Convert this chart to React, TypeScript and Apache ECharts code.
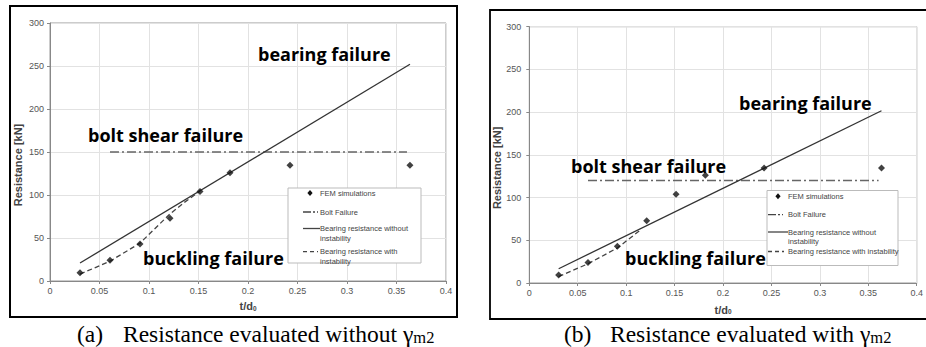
import React, { useEffect, useRef } from "react";
import * as echarts from "echarts";

// ---- data ----
const xTicks = [0, 0.05, 0.1, 0.15, 0.2, 0.25, 0.3, 0.35, 0.4];
const yTicks = [0, 50, 100, 150, 200, 250, 300];

const femX = [0.0303, 0.0606, 0.0909, 0.1212, 0.1515, 0.1818, 0.2424, 0.3636];
const femY = [9.5, 24, 43, 73, 104, 126, 134.5, 134.5];

const boltX = [0.0606, 0.3606];
const boltYA = [150, 150];
const boltYB = [120, 120];

const bearingX = [0.0303, 0.3636];
const bearingYA = [20.9, 252];
const bearingYB = [16.7, 201.6];

const buckXA = [0.0303, 0.0606, 0.0909, 0.1212, 0.1364, 0.1515];
const buckYA = [8, 23, 44, 78, 92, 104.5];
const buckXB = [0.0303, 0.0606, 0.0909, 0.1136];
const buckYB = [7.5, 22.5, 41, 61];

const legendNames = [
  "FEM simulations",
  "Bolt Failure",
  "Bearing resistance without\ninstability",
  "Bearing resistance with\ninstability",
];

const pairs = (xs: number[], ys: number[]) => xs.map((x, i) => [x, ys[i]]);

const SANS = "Liberation Sans, Arial, sans-serif";
const ANN = "Open Sans, sans-serif";
const SERIF = "Liberation Serif, Times New Roman, serif";

function makeX(gridIndex: number, margin: number, nameGap: number) {
  return {
    type: "value",
    gridIndex,
    min: xTicks[0],
    max: xTicks[xTicks.length - 1],
    interval: xTicks[1] - xTicks[0],
    name: "t/d{s|0}",
    nameLocation: "middle",
    nameGap,
    nameTextStyle: {
      fontFamily: SANS,
      fontWeight: "bold",
      fontSize: 11,
      color: "#444",
      rich: { s: { fontFamily: SANS, fontSize: 6.5, fontWeight: "bold", color: "#444", verticalAlign: "bottom" } },
    },
    axisLine: { show: true, lineStyle: { color: "#888", width: 1 } },
    axisTick: { show: true, length: 3, lineStyle: { color: "#888" } },
    axisLabel: { fontSize: 9, color: "#555", margin, fontFamily: SANS },
    splitLine: { show: true, lineStyle: { color: "#e2e2e2", width: 1 } },
  };
}

function makeY(gridIndex: number, margin: number, nameGap: number) {
  return {
    type: "value",
    gridIndex,
    min: yTicks[0],
    max: yTicks[yTicks.length - 1],
    interval: yTicks[1] - yTicks[0],
    name: "Resistance [kN]",
    nameLocation: "middle",
    nameGap,
    nameTextStyle: {
      fontFamily: SANS,
      fontWeight: "bold",
      fontSize: 11,
      color: "#444",
      padding: [0, 26, 0, 0],
    },
    axisLine: { show: true, lineStyle: { color: "#888", width: 1 } },
    axisTick: { show: true, length: 3, lineStyle: { color: "#888" } },
    axisLabel: { fontSize: 9, color: "#555", margin, fontFamily: SANS },
    splitLine: { show: true, lineStyle: { color: "#e2e2e2", width: 1 } },
  };
}

function makeSeries(idx: number, boltY: number[], bearY: number[], bx: number[], by: number[]) {
  return [
    {
      name: legendNames[1],
      type: "line",
      xAxisIndex: idx,
      yAxisIndex: idx,
      data: pairs(boltX, boltY),
      symbol: "none",
      lineStyle: { color: "#666", width: 1.6, type: [9, 3, 2, 3] },
      z: 3,
    },
    {
      name: legendNames[2],
      type: "line",
      xAxisIndex: idx,
      yAxisIndex: idx,
      data: pairs(bearingX, bearY),
      symbol: "none",
      lineStyle: { color: "#333", width: 1.3 },
      z: 3,
    },
    {
      name: legendNames[3],
      type: "line",
      xAxisIndex: idx,
      yAxisIndex: idx,
      data: pairs(bx, by),
      symbol: "none",
      lineStyle: { color: "#444", width: 1.3, type: [5, 3] },
      z: 3,
    },
    {
      name: legendNames[0],
      type: "scatter",
      xAxisIndex: idx,
      yAxisIndex: idx,
      data: pairs(femX, femY),
      symbol: "diamond",
      symbolSize: 7,
      itemStyle: { color: "#111" },
      z: 5,
    },
  ];
}

const legendText = (text: string, x: number, y: number, top = false) => ({
  type: "text",
  x,
  y,
  z: 101,
  style: {
    text,
    fontFamily: SANS,
    fontSize: 7.5,
    lineHeight: 9.5,
    fill: "#444",
    align: "left",
    verticalAlign: top ? "top" : "middle",
  },
});

const legendLine = (x1: number, x2: number, y: number, dash: number[] | null) => ({
  type: "line",
  z: 101,
  shape: { x1, y1: y, x2, y2: y },
  style: { stroke: "#444", lineWidth: 1.3, lineDash: dash || undefined },
});

const diamond = (cx: number, cy: number) => ({
  type: "polygon",
  z: 101,
  shape: { points: [[cx, cy - 3], [cx + 2.6, cy], [cx, cy + 3], [cx - 2.6, cy]] },
  style: { fill: "#111" },
});

const ann = (text: string, x: number, y: number) => ({
  type: "text",
  x,
  y,
  z: 110,
  style: { text, fontFamily: ANN, fontWeight: "bold", fontSize: 18, fill: "#000", align: "left", verticalAlign: "middle" },
});

const caption = (label: string, body: string, xl: number, xb: number, y: number) => [
  {
    type: "text",
    x: xl,
    y,
    style: { text: label, fontFamily: SERIF, fontSize: 23.5, fill: "#000", align: "left", verticalAlign: "middle" },
  },
  {
    type: "text",
    x: xb,
    y,
    style: {
      text: body + "{s|m2}",
      fontFamily: SERIF,
      fontSize: 23.5,
      fill: "#000",
      align: "left",
      verticalAlign: "middle",
      rich: { s: { fontFamily: SERIF, fontSize: 16.5, fill: "#000", verticalAlign: "bottom" } },
    },
  },
];

const graphics: any[] = [
  // panel frames
  { type: "rect", z: 120, shape: { x: 10, y: 6, width: 447, height: 311 }, style: { fill: "none", stroke: "#000", lineWidth: 2 } },
  { type: "rect", z: 120, shape: { x: 490, y: 10, width: 460, height: 309 }, style: { fill: "none", stroke: "#000", lineWidth: 1.8 } },
  // left legend
  { type: "rect", z: 100, shape: { x: 288, y: 188, width: 133, height: 75 }, style: { fill: "#fff", stroke: "#bbb", lineWidth: 1 } },
  diamond(310, 193),
  legendText(legendNames[0], 320, 193),
  legendLine(303, 318, 212, [8, 2, 2, 2]),
  legendText(legendNames[1], 320, 212),
  legendLine(303, 320, 228.5, null),
  legendText(legendNames[2], 320, 224, true),
  legendLine(303, 318, 251.7, [4, 3]),
  legendText(legendNames[3], 320, 247, true),
  // right legend
  { type: "rect", z: 100, shape: { x: 767, y: 190.5, width: 131, height: 75 }, style: { fill: "#fff", stroke: "#bbb", lineWidth: 1 } },
  diamond(778, 196.3),
  legendText(legendNames[0], 788, 196.3),
  legendLine(768, 783, 214.7, [8, 2, 2, 2]),
  legendText(legendNames[1], 788, 214.7),
  legendLine(768, 788, 232, null),
  legendText(legendNames[2], 788, 227.5, true),
  legendLine(768, 784, 251.5, [4, 3]),
  legendText(legendNames[3].replace("\n", " "), 788, 251.5),
  // annotations
  ann("bearing failure", 258, 54),
  ann("bolt shear failure", 88, 135),
  ann("buckling failure", 143, 258),
  ann("bearing failure", 739, 103.3),
  ann("bolt shear failure", 571, 165.7),
  ann("buckling failure", 625, 258.3),
  // captions
  ...caption("(a)", "Resistance evaluated without \u03b3", 77, 123, 334),
  ...caption("(b)", "Resistance evaluated with \u03b3", 564, 610, 334),
];

const option: any = {
  animation: false,
  backgroundColor: "#fff",
  grid: [
    { left: 50, top: 23, width: 396, height: 258, show: true, borderColor: "#999", borderWidth: 1 },
    { left: 529.3, top: 26.7, width: 394.7, height: 256.3, show: true, borderColor: "#999", borderWidth: 1 },
  ],
  xAxis: [makeX(0, 5, 19.5), makeX(1, 5.5, 21)],
  yAxis: [makeY(0, 6, 26.5), makeY(1, 8, 26)],
  series: [
    ...makeSeries(0, boltYA, bearingYA, buckXA, buckYA),
    ...makeSeries(1, boltYB, bearingYB, buckXB, buckYB),
  ],
  graphic: graphics,
};

export default function App() {
  const ref = useRef<HTMLDivElement>(null);
  useEffect(() => {
    const chart = echarts.init(ref.current!, null, { renderer: "svg" });
    chart.setOption(option);
    return () => chart.dispose();
  }, []);
  return (
    <div
      ref={ref}
      style={{ position: "absolute", left: 0, top: 0, width: 926, height: 347, background: "#fff" }}
    />
  );
}
